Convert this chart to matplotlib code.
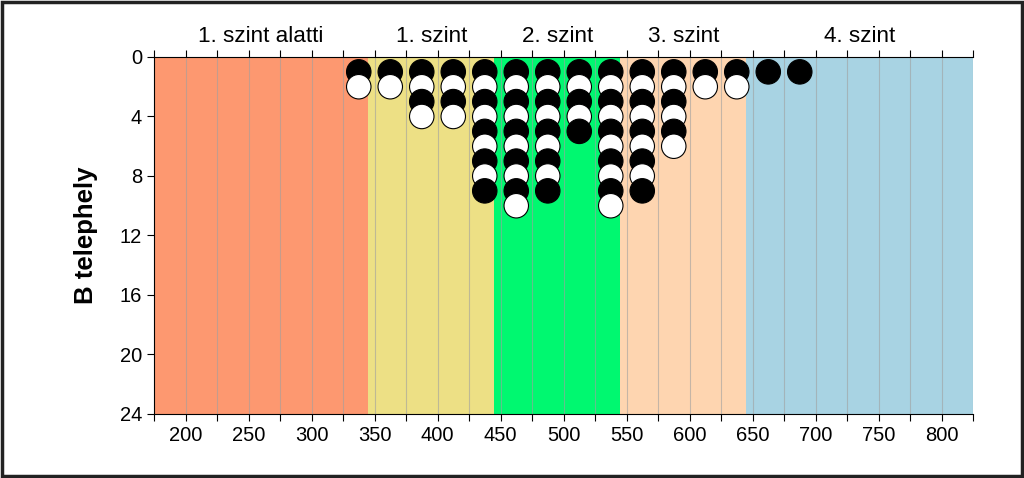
import matplotlib
matplotlib.use("Agg")
import matplotlib.pyplot as plt
from matplotlib.patches import Rectangle
import numpy as np

# ---- data ----
bin_centers = [337.5, 362.5, 387.5, 412.5, 437.5, 462.5, 487.5, 512.5,
               537.5, 562.5, 587.5, 612.5, 637.5, 662.5, 687.5]
counts = [2, 2, 4, 4, 9, 10, 9, 5, 10, 9, 6, 2, 2, 1, 1]

band_edges = [175, 345, 445, 545, 645, 825]
band_labels = ["1. szint alatti", "1. szint", "2. szint", "3. szint", "4. szint"]
band_colors = ["#FD9870", "#EDE085", "#00F870", "#FED5B0", "#A8D3E3"]

xticks_major = [200, 250, 300, 350, 400, 450, 500, 550, 600, 650, 700, 750, 800]
yticks = [0, 4, 8, 12, 16, 20, 24]
ylabel = "B telephely"

plt.rcParams['font.family'] = ['Liberation Sans', 'DejaVu Sans']

fig = plt.figure(figsize=(10.24, 4.78), dpi=100)
ax = fig.add_axes([0.1504, 0.1339, 0.7998, 0.7469])

# bands
for i in range(len(band_labels)):
    ax.axvspan(band_edges[i], band_edges[i + 1], color=band_colors[i], zorder=0, lw=0)
    ax.text((band_edges[i] + band_edges[i + 1]) / 2, 1.028, band_labels[i],
            transform=ax.get_xaxis_transform(), ha='center', va='bottom',
            fontsize=16.2)

# grid lines every 25
for gx in np.arange(175, 826, 25):
    ax.axvline(gx, color='#A0A0A0', lw=0.8, alpha=0.6, zorder=1)

# dots: stacked, alternating black/white, lower ones drawn on top
xs, ys, cs = [], [], []
for x, c in zip(bin_centers, counts):
    for k in range(1, c + 1):
        xs.append(x); ys.append(k)
        cs.append('black' if k % 2 == 1 else 'white')
order = np.argsort(ys, kind='stable')
ax.scatter(np.array(xs)[order], np.array(ys)[order], s=310,
           c=np.array(cs)[order], edgecolors='black', linewidths=0.8, zorder=3)

ax.set_xlim(175, 825)
ax.set_ylim(24, 0)
ax.set_xticks(xticks_major)
ax.set_xticks(np.arange(175, 826, 50), minor=True)
ax.set_yticks(yticks)
ax.tick_params(axis='both', which='major', labelsize=14.5, direction='out', length=5, width=0.8)
ax.tick_params(axis='x', which='minor', direction='out', length=5, width=0.8, top=True)
ax.tick_params(axis='x', which='major', top=True)
ax.set_ylabel(ylabel, fontsize=18.5, fontweight='bold', labelpad=16)

ax.spines['right'].set_visible(False)
for s in ['left', 'bottom', 'top']:
    ax.spines[s].set_linewidth(0.8)

fig.patches.append(Rectangle((0.002, 0.004), 0.996, 0.992, transform=fig.transFigure,
                             fill=False, edgecolor='#222222', lw=2.5))

fig.savefig("out.png", dpi=100)
